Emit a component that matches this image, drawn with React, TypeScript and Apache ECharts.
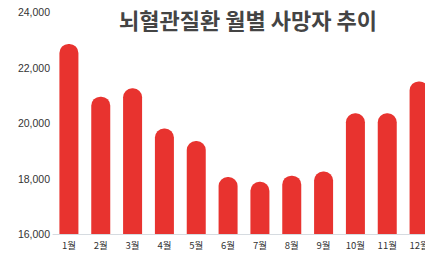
import React, { useEffect, useRef } from "react";
import * as echarts from "echarts";

const months = ["1월", "2월", "3월", "4월", "5월", "6월", "7월", "8월", "9월", "10월", "11월", "12월"];
const deaths = [22850, 20950, 21250, 19800, 19350, 18050, 17880, 18100, 18250, 20350, 20350, 21500];
const yTicks = [16000, 18000, 20000, 22000, 24000];
const title = "뇌혈관질환 월별 사망자 추이";

export default function App() {
  const ref = useRef<HTMLDivElement>(null);
  useEffect(() => {
    const chart = echarts.init(ref.current!, null, { renderer: "svg" });
    chart.setOption({
      animation: false,
      backgroundColor: "#ffffff",
      title: {
        text: title,
        left: 243,
        top: 3,
        textAlign: "center",
        textStyle: {
          fontFamily: "Noto Sans CJK KR",
          fontSize: 22,
          fontWeight: "bold",
          color: "#444444",
        },
      },
      grid: {
        left: 53,
        width: 382,
        top: 12,
        bottom: 19,
        containLabel: false,
        outerBoundsMode: "none",
      },
      xAxis: {
        type: "category",
        data: months,
        axisLine: { show: true, lineStyle: { color: "#d6dbe0", width: 1 } },
        axisTick: { show: false },
        axisLabel: {
          interval: 0,
          margin: 6,
          fontSize: 9.5,
          color: "#333333",
          fontFamily: "Noto Sans CJK KR",
        },
      },
      yAxis: {
        type: "value",
        min: yTicks[0],
        max: yTicks[yTicks.length - 1],
        interval: 2000,
        axisLine: { show: false },
        axisTick: { show: false },
        splitLine: { show: false },
        axisLabel: {
          margin: 3,
          fontSize: 10.5,
          color: "#333333",
          fontFamily: "Liberation Sans Narrow, Liberation Sans",
          formatter: (v: number) => v.toLocaleString("en-US"),
        },
      },
      series: [
        {
          type: "bar",
          data: deaths,
          barWidth: 19,
          itemStyle: { color: "#e8332f", borderRadius: [9, 9, 0, 0] },
        },
      ],
    });
    return () => chart.dispose();
  }, []);
  return <div ref={ref} style={{ width: 425, height: 253, position: "absolute", left: 0, top: 0 }} />;
}
